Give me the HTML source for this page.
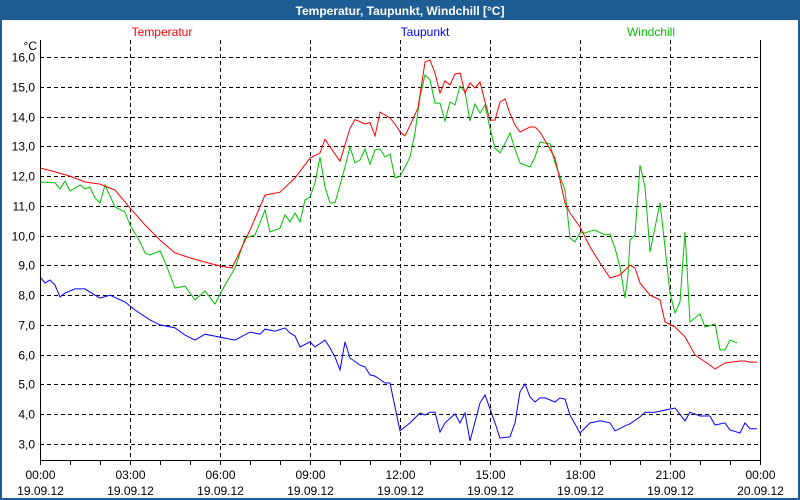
<!DOCTYPE html>
<html><head><meta charset="utf-8"><style>
body{margin:0;width:800px;height:500px;overflow:hidden;background:#fff;font-family:"Liberation Sans",sans-serif}
svg{display:block}
</style></head><body>
<svg id="chart" width="800" height="500" xmlns="http://www.w3.org/2000/svg">
<rect x="0" y="0" width="800" height="500" fill="#1e5d94"/>
<rect x="2" y="20" width="796" height="478" fill="#fff"/>
<text x="400" y="15" text-anchor="middle" fill="#fff" font-size="12" font-weight="bold">Temperatur, Taupunkt, Windchill [°C]</text>
<text x="162" y="36" text-anchor="middle" fill="#ff0000" font-size="12">Temperatur</text>
<text x="425" y="36" text-anchor="middle" fill="#0000ff" font-size="12">Taupunkt</text>
<text x="651" y="36" text-anchor="middle" fill="#00c000" font-size="12">Windchill</text>
<text x="37" y="50" text-anchor="end" fill="#000" font-size="12">°C</text>
<g id="grid"></g><g id="series"></g><g id="axes"></g>
</svg>
<script>
const yTicks=[3,4,5,6,7,8,9,10,11,12,13,14,15,16];
const xTickHours=[0,3,6,9,12,15,18,21,24];
const xTickDates=["19.09.12","19.09.12","19.09.12","19.09.12","19.09.12","19.09.12","19.09.12","19.09.12","20.09.12"];
const tempMin=[0,30,60,90,120,150,180,210,240,270,300,330,360,384,420,450,480,510,540,560,570,580,600,620,630,650,660,670,680,700,712,720,730,740,756,770,780,790,800,810,820,830,840,850,860,870,880,890,900,910,920,930,940,950,960,980,990,1000,1010,1030,1040,1050,1060,1080,1100,1120,1140,1160,1180,1190,1200,1220,1240,1250,1270,1290,1310,1340,1350,1370,1400,1410,1420,1434];
const tempVal=[12.27,12.14,12.0,11.8,11.73,11.53,10.93,10.36,9.85,9.42,9.25,9.11,8.98,8.91,10.19,11.36,11.46,11.94,12.6,12.78,13.24,12.98,12.5,13.6,13.9,13.75,13.8,13.35,14.15,13.95,13.7,13.48,13.35,13.7,14.29,15.83,15.9,15.46,14.79,15.2,15.06,15.43,15.46,14.79,15.13,14.96,15.16,14.5,13.88,13.88,14.49,14.59,14.1,13.72,13.48,13.65,13.65,13.48,13.2,12.6,11.87,11.1,10.76,10.29,9.62,9.08,8.58,8.68,9.01,8.91,8.41,8.0,7.84,7.1,6.93,6.6,5.99,5.65,5.52,5.72,5.79,5.79,5.75,5.75].slice(0,84);
const windMin=[0,30,40,50,60,80,90,100,110,120,130,150,170,180,200,210,220,240,250,270,290,310,330,350,370,390,410,430,450,460,480,490,500,510,520,530,540,550,560,570,580,590,610,620,630,640,650,660,670,680,690,700,710,720,730,740,750,760,770,780,790,800,810,820,830,840,850,860,870,880,890,900,910,920,930,940,950,960,980,990,1000,1020,1030,1050,1060,1070,1080,1090,1100,1110,1120,1130,1140,1150,1160,1170,1176,1180,1190,1200,1210,1220,1240,1250,1260,1270,1280,1290,1300,1320,1330,1350,1360,1370,1380,1394];
const windVal=[11.8,11.77,11.57,11.83,11.5,11.7,11.57,11.63,11.26,11.1,11.7,10.96,10.79,10.36,9.79,9.42,9.35,9.49,9.11,8.24,8.3,7.84,8.14,7.7,8.34,8.91,9.92,10.02,10.86,10.12,10.25,10.7,10.46,10.76,10.46,11.2,11.3,11.77,12.64,11.63,11.1,11.1,12.3,12.98,12.44,12.54,12.91,12.4,12.88,12.91,12.64,12.74,11.94,12.0,12.3,12.64,13.45,14.66,15.4,15.23,14.45,14.45,13.85,14.49,14.39,15.03,14.82,13.85,14.42,14.12,14.39,13.6,12.94,12.78,13.1,13.45,12.9,12.44,12.3,12.64,13.14,13.08,12.44,11.53,9.92,9.79,10.09,10.09,10.15,10.19,10.1,10.02,10.05,9.58,8.95,7.9,8.68,9.85,10.02,12.37,11.63,9.45,11.1,9.62,8.07,7.4,7.77,10.12,7.1,7.37,6.93,7.03,6.16,6.16,6.49,6.4,5.08,5.92,5.45,5.45].slice(0,120);
const dewMin=[0,10,20,30,40,50,70,90,110,120,140,170,190,220,240,270,290,310,330,360,390,420,440,450,470,490,500,510,520,540,550,570,580,590,600,610,620,640,650,660,670,690,700,720,740,760,770,780,790,800,810,830,840,850,860,880,890,910,920,940,950,960,970,980,990,1000,1010,1030,1040,1050,1060,1080,1100,1110,1120,1140,1150,1170,1180,1200,1210,1230,1250,1270,1290,1300,1320,1340,1350,1370,1380,1400,1410,1420,1434];
const dewVal=[8.61,8.41,8.51,8.34,7.94,8.07,8.21,8.21,8.0,7.9,8.0,7.77,7.5,7.17,7.0,6.9,6.66,6.49,6.69,6.59,6.49,6.76,6.69,6.86,6.79,6.9,6.73,6.63,6.26,6.43,6.26,6.49,6.23,5.92,5.49,6.43,5.89,5.65,5.59,5.32,5.28,5.05,5.05,3.44,3.71,4.04,3.97,4.07,4.07,3.4,3.71,4.01,3.71,4.04,3.1,4.38,4.65,3.71,3.2,3.24,3.71,4.75,5.02,4.58,4.41,4.55,4.55,4.41,4.55,4.51,3.97,3.37,3.71,3.74,3.78,3.71,3.44,3.61,3.68,3.91,4.07,4.07,4.14,4.21,3.78,4.07,3.94,3.94,3.64,3.71,3.47,3.37,3.71,3.51,3.51].slice(0,95);

const L=40,R=760,B=460,T=40;
function xScale(min){return L+(min/1440)*(R-L);}
function yScale(v){return 57+(16-v)*29.77;}
const NS="http://www.w3.org/2000/svg";
const grid=document.getElementById('grid'),ser=document.getElementById('series'),axes=document.getElementById('axes');
function mk(tag,attrs,parent){const e=document.createElementNS(NS,tag);for(const k in attrs)e.setAttribute(k,attrs[k]);parent.appendChild(e);return e;}
yTicks.forEach(v=>{
  const y=Math.round(yScale(v))+0.5;
  const g=mk('line',{x1:L,x2:R,y1:y,y2:y,stroke:'#000','stroke-dasharray':'4,3','stroke-width':1},grid);
  
  
  const t=mk('text',{x:35,y:y+4,'text-anchor':'end','font-size':12,fill:'#000'},axes);
  t.textContent=v.toFixed(1).replace('.',',');
  
  
});
xTickHours.forEach((h,i)=>{
  const x=Math.round(xScale(h*60))+0.5;
  if(h>0&&h<24){const g=mk('line',{x1:x,x2:x,y1:T,y2:B,stroke:'#000','stroke-dasharray':'4,3','stroke-width':1},grid);
  
  }
  const t=mk('text',{x:x,y:479,'text-anchor':'middle','font-size':12,fill:'#000'},axes);
  t.textContent=(h<10?'0':'')+(h%24===0&&h===24?'00':h)+':00';
  if(h===24)t.textContent='00:00';
  
  
  const d=mk('text',{x:x,y:495,'text-anchor':'middle','font-size':12,fill:'#000'},axes);
  d.textContent=xTickDates[i];
  
  
});
for(let h=0;h<=24;h++){const x=Math.round(xScale(h*60))+0.5;
  const tk=mk('line',{x1:x,x2:x,y1:B,y2:B+5,stroke:'#000'},axes);
  
  }
const ax=mk('path',{d:`M${L+0.5},${T} V${B+0.5} H${R+0.5} V${T}`,fill:'none',stroke:'#000','stroke-width':1},axes);


function line(ts,vs,color,name){
  const d=ts.map((t,i)=>(i?'L':'M')+xScale(t).toFixed(1)+','+yScale(vs[i]).toFixed(1)).join(' ');
  const p=mk('path',{d:d,fill:'none',stroke:color,'stroke-width':1},ser);
  
  
}
line(dewMin,dewVal,'#0000ff','taupunkt-line');
line(windMin,windVal,'#00c000','windchill-line');
line(tempMin,tempVal,'#ff0000','temperatur-line');
</script>
</body></html>
